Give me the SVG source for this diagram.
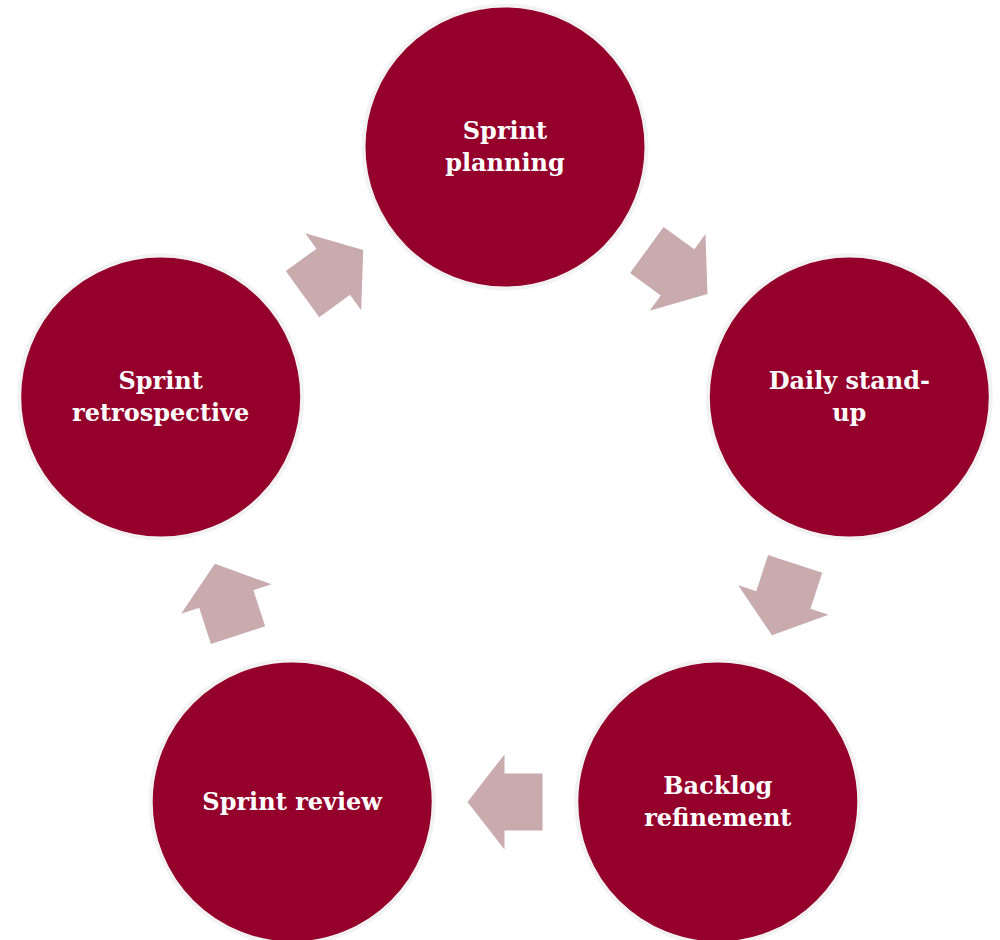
<svg xmlns="http://www.w3.org/2000/svg" xmlns:xlink="http://www.w3.org/1999/xlink" width="1000" height="940" viewBox="0 0 1000 940">
  <style>
    .node { fill: #94002B; stroke: #F2F2F2; stroke-width: 4; }
    .label { fill: #FFFFFF; font-family: "DejaVu Serif", "Liberation Serif", serif; font-weight: bold; font-size: 24px; text-anchor: middle; }
    .arrow { fill: #C9AAAD; }
  </style>
  <defs>
    <polygon id="blockArrow" points="-37.5,-28.5 0.5,-28.5 0.5,-47.5 37.5,0 0.5,47.5 0.5,28.5 -37.5,28.5"/>
  </defs>
  <rect x="0" y="0" width="1000" height="940" fill="#FFFFFF"/>
  <g id="connectors" class="arrow">
    <use xlink:href="#blockArrow" href="#blockArrow" transform="translate(677.15,272.05) rotate(36)"/>
    <use xlink:href="#blockArrow" href="#blockArrow" transform="translate(783.55,599.5) rotate(108)"/>
    <use xlink:href="#blockArrow" href="#blockArrow" transform="translate(505,801.9) rotate(180)"/>
    <use xlink:href="#blockArrow" href="#blockArrow" transform="translate(226.45,599.5) rotate(252)"/>
    <use xlink:href="#blockArrow" href="#blockArrow" transform="translate(332.85,272.05) rotate(-36)"/>
  </g>
  <g id="sprint-planning">
    <circle class="node" cx="505" cy="147" r="141.5"/>
    <text class="label" x="505" y="139">Sprint</text>
    <text class="label" x="505" y="171">planning</text>
  </g>
  <g id="daily-standup">
    <circle class="node" cx="849.3" cy="397.1" r="141.5"/>
    <text class="label" x="849.3" y="389">Daily stand-</text>
    <text class="label" x="849.3" y="421">up</text>
  </g>
  <g id="backlog-refinement">
    <circle class="node" cx="717.8" cy="801.9" r="141.5"/>
    <text class="label" x="717.8" y="794">Backlog</text>
    <text class="label" x="717.8" y="826">refinement</text>
  </g>
  <g id="sprint-review">
    <circle class="node" cx="292.2" cy="801.9" r="141.5"/>
    <text class="label" x="292.2" y="810">Sprint review</text>
  </g>
  <g id="sprint-retrospective">
    <circle class="node" cx="160.7" cy="397.1" r="141.5"/>
    <text class="label" x="160.7" y="389">Sprint</text>
    <text class="label" x="160.7" y="421">retrospective</text>
  </g>
</svg>
